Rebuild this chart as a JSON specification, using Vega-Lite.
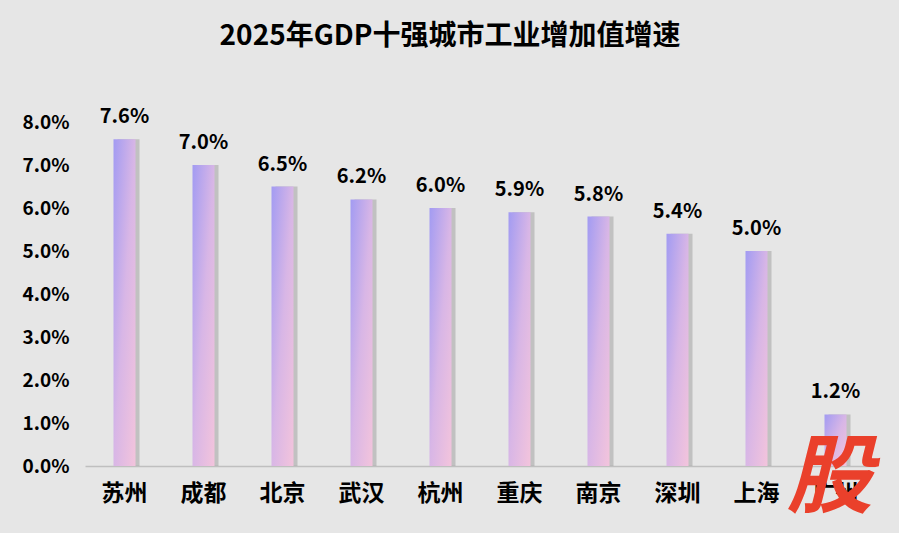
{
  "$schema": "https://vega.github.io/schema/vega-lite/v6.json",
  "autosize": "none",
  "width": 790,
  "height": 344,
  "padding": {"left": 85, "top": 122, "right": 24, "bottom": 67},
  "background": "#e6e6e6",
  "view": {"stroke": null},
  "title": {
    "text": "2025年GDP十强城市工业增加值增速",
    "font": "Noto Sans CJK SC",
    "fontWeight": "bold",
    "fontSize": 28,
    "color": "#000000",
    "anchor": "middle",
    "dx": -30,
    "offset": 56
  },
  "data": {
    "values": [
      {"city": "苏州", "v": 0.076},
      {"city": "成都", "v": 0.070},
      {"city": "北京", "v": 0.065},
      {"city": "武汉", "v": 0.062},
      {"city": "杭州", "v": 0.060},
      {"city": "重庆", "v": 0.059},
      {"city": "南京", "v": 0.058},
      {"city": "深圳", "v": 0.054},
      {"city": "上海", "v": 0.050},
      {"city": "广州", "v": 0.012}
    ]
  },
  "encoding": {
    "x": {
      "field": "city",
      "type": "nominal",
      "sort": null,
      "scale": {"paddingInner": 0.72, "paddingOuter": 0.36},
      "axis": {
        "title": null,
        "labelAngle": 0,
        "labelFont": "Noto Sans CJK SC",
        "labelFontWeight": "bold",
        "labelFontSize": 23,
        "labelColor": "#000000",
        "labelPadding": 16,
        "ticks": false,
        "domainColor": "#bfbfbf",
        "domainWidth": 1.5
      }
    },
    "y": {
      "field": "v",
      "type": "quantitative",
      "scale": {"domain": [0, 0.08]},
      "axis": {
        "title": null,
        "values": [0, 0.01, 0.02, 0.03, 0.04, 0.05, 0.06, 0.07, 0.08],
        "format": ".1%",
        "labelFont": "Noto Sans CJK SC",
        "labelFontWeight": "bold",
        "labelFontSize": 19,
        "labelColor": "#000000",
        "labelPadding": 16,
        "grid": false,
        "domain": false,
        "ticks": false
      }
    }
  },
  "layer": [
    {
      "mark": {"type": "bar", "size": 22, "xOffset": 4, "color": "#7a7a7a", "opacity": 0.35}
    },
    {
      "mark": {
        "type": "bar",
        "size": 22,
        "color": {
          "gradient": "linear",
          "x1": 0, "y1": 0, "x2": 1, "y2": 1,
          "stops": [
            {"offset": 0, "color": "#a29bf2"},
            {"offset": 0.5, "color": "#d8b6e6"},
            {"offset": 1, "color": "#f3c4dc"}
          ]
        }
      }
    },
    {
      "mark": {
        "type": "text",
        "dy": -22,
        "font": "Noto Sans CJK SC",
        "fontWeight": "bold",
        "fontSize": 20,
        "color": "#000000"
      },
      "encoding": {
        "text": {"field": "v", "type": "quantitative", "format": ".1%"}
      }
    },
    {
      "data": {"values": [{"city": "广州", "v": 0, "t": "股"}]},
      "mark": {
        "type": "text",
        "dy": 14,
        "dx": -6,
        "font": "Noto Sans CJK SC",
        "fontWeight": "bold",
        "fontStyle": "italic",
        "fontSize": 86,
        "color": "#ea402b",
        "baseline": "middle"
      },
      "encoding": {
        "text": {"field": "t", "type": "nominal"}
      }
    }
  ]
}
